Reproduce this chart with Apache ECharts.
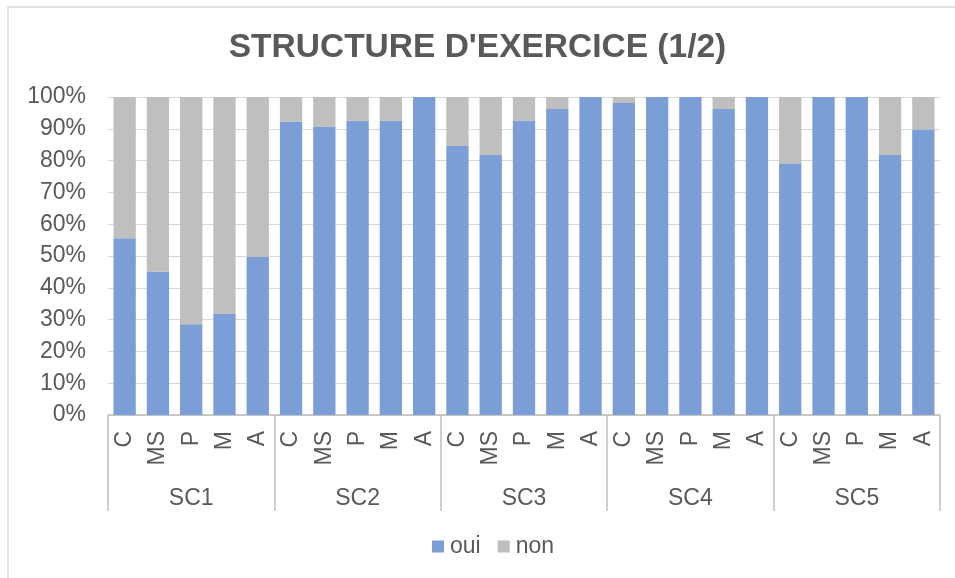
<!DOCTYPE html>
<html>
<head>
<meta charset="utf-8">
<script src="https://cdn.jsdelivr.net/npm/echarts@6/dist/echarts.min.js"></script>
<style>
  html, body { margin: 0; padding: 0; background: #fff; }
  #chart { width: 955px; height: 578px; }
</style>
</head>
<body>
<div id="chart"></div>
<script>
// Sub-categories repeated within each group, and the group names
const subLabels = ['C', 'MS', 'P', 'M', 'A'];
const groups = ['SC1', 'SC2', 'SC3', 'SC4', 'SC5'];

// Share of answers (%) per bar, in group order
const oui = [55.6, 45.1, 28.5, 31.8, 49.7,
             92.3, 90.7, 92.5, 92.5, 100,
             84.6, 81.8, 92.6, 96.2, 100,
             98.1, 100, 100, 96.2, 100,
             78.9, 100, 100, 81.8, 89.8];
const non = [44.4, 54.9, 71.5, 68.2, 50.3,
             7.7, 9.3, 7.5, 7.5, 0,
             15.4, 18.2, 7.4, 3.8, 0,
             1.9, 0, 0, 3.8, 0,
             21.1, 0, 0, 18.2, 10.2];

const yTicks = { min: 0, max: 100, interval: 10 };

// One category per bar: the sub-label list for every group
const barCategories = [];
groups.forEach(() => subLabels.forEach(s => barCategories.push(s)));

const FONT = 'Liberation Sans, Arial, sans-serif';
const TEXT = '#595959';
const LINE = '#bfbfbf';

const chart = echarts.init(document.getElementById('chart'), null, { renderer: 'canvas' });

chart.setOption({
  animation: false,
  backgroundColor: '#fff',
  textStyle: { fontFamily: FONT },
  title: {
    text: "STRUCTURE D'EXERCICE (1/2)",
    left: 'center',
    top: 31,
    padding: [0, 0, 0, 10],
    textStyle: { fontFamily: FONT, fontSize: 33.5, fontWeight: 'bold', color: TEXT }
  },
  graphic: [{
    type: 'rect',
    shape: { x: 8, y: 7, width: 960, height: 590 },
    style: { fill: 'none', stroke: '#d9d9d9', lineWidth: 1.5 },
    silent: true
  }],
  legend: {
    data: ['oui', 'non'],
    left: 432,
    top: 535,
    padding: 0,
    icon: 'rect',
    itemWidth: 12,
    itemHeight: 12,
    itemGap: 17,
    textStyle: { fontFamily: FONT, fontSize: 23, color: TEXT, padding: [0, 0, 0, 1] }
  },
  grid: { left: 108, right: 15, top: 97, bottom: 163, containLabel: false },
  xAxis: [{
    type: 'category',
    data: barCategories,
    position: 'bottom',
    axisLine: { show: true, lineStyle: { color: LINE, width: 1.5 } },
    axisTick: { show: false },
    axisLabel: {
      interval: 0, rotate: 90, margin: 16,
      fontFamily: FONT, fontSize: 23, color: TEXT
    },
    splitLine: { show: false }
  }, {
    type: 'category',
    data: groups,
    position: 'bottom',
    offset: 0,
    axisLine: { show: false },
    axisTick: { show: true, length: 96, interval: 0, lineStyle: { color: LINE, width: 1.5 } },
    axisLabel: {
      interval: 0, margin: 72,
      fontFamily: FONT, fontSize: 23, color: TEXT
    },
    splitLine: { show: false }
  }],
  yAxis: {
    type: 'value',
    min: yTicks.min,
    max: yTicks.max,
    interval: yTicks.interval,
    axisLine: { show: false },
    axisTick: { show: false },
    axisLabel: {
      formatter: '{value}%', margin: 22,
      fontFamily: FONT, fontSize: 23, color: TEXT
    },
    splitLine: { lineStyle: { color: '#d9d9d9', width: 1 } }
  },
  series: [{
    name: 'oui',
    type: 'bar',
    stack: 'total',
    xAxisIndex: 0,
    data: oui,
    barCategoryGap: '33%',
    itemStyle: { color: '#7b9ed7' }
  }, {
    name: 'non',
    type: 'bar',
    stack: 'total',
    xAxisIndex: 0,
    data: non,
    barCategoryGap: '33%',
    itemStyle: { color: '#bfbfbf' }
  }]
});
</script>
</body>
</html>
